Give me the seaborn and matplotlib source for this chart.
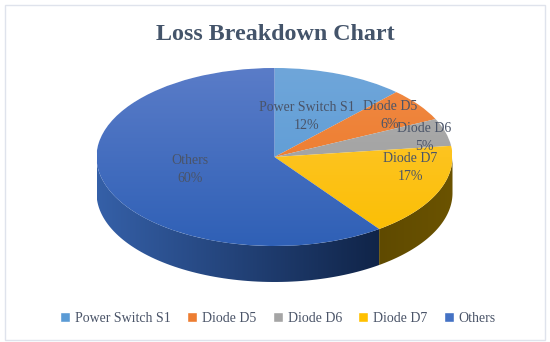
import numpy as np
import matplotlib
matplotlib.use("Agg")
import matplotlib.pyplot as plt
from matplotlib.colors import LinearSegmentedColormap
from matplotlib.patches import PathPatch, Rectangle
from matplotlib.path import Path
import seaborn as sns

categories = ["Power Switch S1", "Diode D5", "Diode D6", "Diode D7", "Others"]
values = [12, 6, 5, 17, 60]
colors = ["#5B9BD5", "#ED7D31", "#A5A5A5", "#FFC000", "#4472C4"]
top_light = ["#6fa6da", "#f08a45", "#b0b0b0", "#ffc83a", "#5a7cc8"]
top_dark = ["#5597d3", "#ec7420", "#989898", "#fbbe00", "#2f60b6"]

# label centres in pixels of the 550x342 picture
label_pos = [(307, 117), (390, 115), (424, 138), (410, 168), (190, 170)]

W, H = 550, 342
DEPTH = 36 / 89

sns.set_theme(style="white")
plt.rcParams["font.family"] = ["Liberation Serif", "DejaVu Serif"]
text_col = "#4a5468"

fig = plt.figure(figsize=(W / 100, H / 100), dpi=100)
fig.patch.set_facecolor("white")
fig.add_artist(Rectangle((5 / W, 1 - 340 / H), 540 / W, 335 / H, transform=fig.transFigure,
                         fill=False, edgecolor="#dfe3ec", linewidth=1))

# top face ellipse fills the axes exactly
ax = fig.add_axes([96.5 / W, 1 - 246 / H, 356 / W, 178 / H])
ax.patch.set_alpha(0)
wedges, _ = ax.pie(values, colors=colors, startangle=90, counterclock=False, radius=1)
ax.set_aspect("auto")
ax.axis("off")

# gradients on the top face
for w, c1, c2 in zip(wedges, top_light, top_dark):
    cmap = LinearSegmentedColormap.from_list("t", [c1, c2])
    im = ax.imshow(np.linspace(0, 1, 256).reshape(-1, 1), cmap=cmap, extent=[-1, 1, -1, 1],
                   aspect="auto", origin="upper", zorder=2)
    im.set_clip_path(w)

# side wall, only the part of the rim that faces the viewer
angles = 90 - np.cumsum([0] + values) * 3.6


def wall(a1, a2, c_from, c_to):
    t = np.radians(np.linspace(a1, a2, 80))
    xs, ys = np.cos(t), np.sin(t)
    pts = np.r_[np.c_[xs, ys], np.c_[xs[::-1], ys[::-1] - DEPTH], [[xs[0], ys[0]]]]
    codes = [Path.MOVETO] + [Path.LINETO] * (len(pts) - 2) + [Path.CLOSEPOLY]
    patch = PathPatch(Path(pts, codes), transform=ax.transData, facecolor="none", edgecolor="none")
    patch.set_clip_on(False)
    ax.add_patch(patch)
    cmap = LinearSegmentedColormap.from_list("w", [c_from, c_to])
    im = ax.imshow(np.linspace(0, 1, 256).reshape(1, -1), cmap=cmap,
                   extent=[xs.min(), xs.max(), -1 - DEPTH, 0.01], aspect="auto", zorder=1)
    # the wall hangs below the axes, so the axes box must not clip it
    im.set_clip_box(fig.bbox)
    im.set_clip_path(patch)


# Others from the left edge round to its end, Diode D7 from there to the right edge
wall(-180, angles[4], "#3560a8", "#102448")
wall(angles[4], 0, "#5f4a00", "#6b5300")
ax.set_xlim(-1, 1)
ax.set_ylim(-1, 1)

fig.text(275 / W, 1 - 34 / H, "Loss Breakdown Chart", ha="center", va="center",
         fontsize=17.3, fontweight="bold", color="#44546a")

for cat, val, (px, py) in zip(categories, values, label_pos):
    fig.text(px / W, 1 - py / H, "%s\n%d%%" % (cat, val), ha="center", va="center",
             fontsize=10, color=text_col, linespacing=1.5, zorder=5)

handles = [Rectangle((0, 0), 1, 1, facecolor=c) for c in colors]
fig.legend(handles, categories, loc="center", bbox_to_anchor=(278 / W, 1 - 318 / H), ncol=5,
           frameon=False, fontsize=10, labelcolor=text_col, handlelength=0.75, handleheight=0.75,
           handletextpad=0.35, columnspacing=1.15)

fig.savefig("out.png", dpi=100)
